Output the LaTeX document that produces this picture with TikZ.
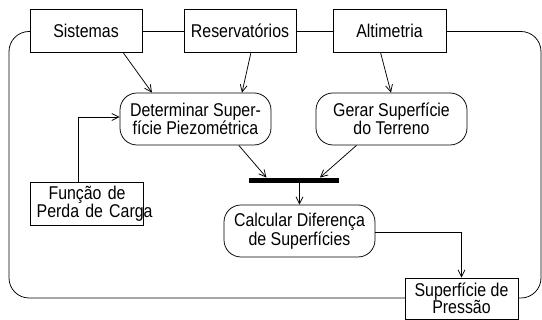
\documentclass[tikz,border=0pt]{standalone}
\usepackage{fontspec}
\setmainfont{Liberation Sans}[FakeStretch=0.86]
\usetikzlibrary{arrows.meta,calc}
\begin{document}
\begin{tikzpicture}[x=1pt,y=-1pt,
  every node/.style={font=\fontsize{18.5}{17.5}\selectfont},
  lw/.style={line width=0.75pt},
  box/.style={draw, lw, fill=white, inner sep=0pt, align=center},
  act/.style={draw, lw, fill=white, rounded corners=17pt, inner sep=0pt, align=center, minimum width=151pt, minimum height=52pt},
  arr/.style={lw, -{Straight Barb[length=7pt,width=7pt]}},
]
\useasboundingbox (0,0) rectangle (542,320);
% outer loop (frame behind the boxes)
\draw[lw, rounded corners=20pt] (9,31.5) rectangle (541,298);
% nodes
\node[box, minimum width=112pt, minimum height=43pt] (sist) at (86,30.5) {Sistemas};
\node[box, minimum width=112pt, minimum height=43pt] (res) at (240,30.5) {Reservatórios};
\node[box, minimum width=113pt, minimum height=43pt] (alt) at (389.5,30.5) {Altimetria};
\node[act] (det) at (195.5,119) {Determinar Super-\\fície Piezométrica};
\node[act] (ger) at (391.5,119) {Gerar Superfície\\do Terreno};
\node[draw, fill=black, inner sep=0pt, minimum width=89pt, minimum height=4.5pt] (bar) at (293.5,180) {};
\node[draw, lw, fill=white, inner xsep=6.2pt, inner ysep=0pt, text width=100.6pt, align=center, minimum height=43pt] (func) at (87,203.5) {Função de\\\mbox{Perda de Carga}};
\node[act] (calc) at (299.5,231) {Calcular Diferença\\de Superfícies};
\node[box, minimum width=113pt, minimum height=41pt] (sup) at (461.5,298.5) {Superfície de\\Pressão};
% connectors
\draw[arr] ([xshift=37pt]sist.south) -- ([xshift=-43.5pt]det.north);
\draw[arr] ([xshift=11pt]res.south) -- ([xshift=46.5pt]det.north);
\draw[arr] ([xshift=-9pt]alt.south) -- ([xshift=-0.5pt]ger.north);
\draw[arr] ([xshift=-9pt]func.north) |- ([yshift=2pt]det.west);
\draw[arr] ([xshift=43.3pt]det.south) -- ([xshift=-27pt]bar.north);
\draw[arr] ([xshift=-35pt]ger.south) -- ([xshift=26.5pt]bar.north);
\draw[arr] (bar.south -| calc.north) -- (calc.north);
\draw[arr] ([yshift=-1.5pt]calc.east) -| (sup.north);
\end{tikzpicture}
\end{document}
